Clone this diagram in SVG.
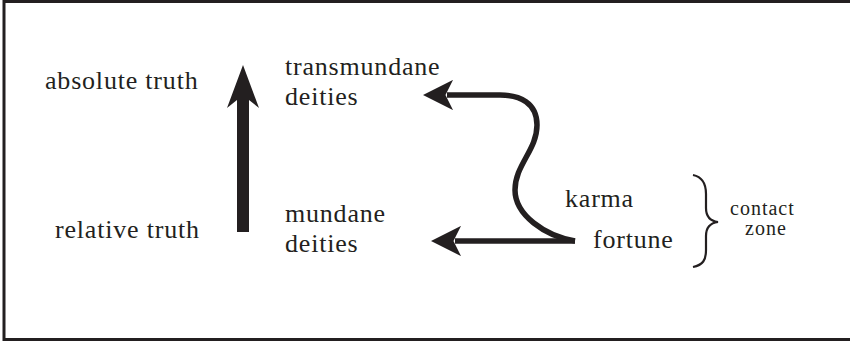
<svg xmlns="http://www.w3.org/2000/svg" width="850" height="342" viewBox="0 0 850 342">
<style>
.t{font-family:"Liberation Serif","DejaVu Serif",serif;font-size:26px;letter-spacing:0.8px;fill:#231f20}
.s{font-family:"Liberation Serif","DejaVu Serif",serif;font-size:20px;letter-spacing:1px;fill:#231f20}
.ln{fill:none;stroke:#231f20;stroke-width:5.5}
</style>
<defs>
<marker id="ah" viewBox="0 0 10 10" refX="2" refY="5" markerWidth="5.5" markerHeight="5.5" orient="auto-start-reverse" markerUnits="strokeWidth">
<path d="M0 0 L10 5 L0 10 L2.5 5 Z" fill="#231f20"/>
</marker>
</defs>
<rect x="4" y="1.5" width="850" height="338" fill="#fff" stroke="#231f20" stroke-width="3"/>
<g id="absolute-truth"><text class="t" x="45" y="89">absolute truth</text></g>
<g id="relative-truth"><text class="t" x="55" y="238">relative truth</text></g>
<g id="transmundane-deities"><text class="t" x="285" y="75">transmundane</text><text class="t" x="285" y="105">deities</text></g>
<g id="mundane-deities"><text class="t" x="285" y="222">mundane</text><text class="t" x="285" y="252">deities</text></g>
<g id="karma"><text class="t" x="565" y="207">karma</text></g>
<g id="fortune"><text class="t" x="593" y="248">fortune</text></g>
<g id="contact-zone">
<path d="M693 175 C703 177 706 184 706 194 L706 208 C706 216 710 221 718 222 C710 223 706 228 706 236 L706 250 C706 260 703 265 693 267" fill="none" stroke="#231f20" stroke-width="2.2"/>
<text class="s" x="730" y="215">contact</text><text class="s" x="745" y="235">zone</text>
</g>
<g id="connectors">
<polygon points="243,65 259,108 249,100 249,232 237,232 237,100 227,108" fill="#231f20"/>
<path class="ln" marker-end="url(#ah)" d="M575 241 C545 236 515 215 515 190 C515 165 537 150 537 125 C537 103 520 95 500 95 L447 95"/>
<path class="ln" marker-end="url(#ah)" d="M575 241 L455 241"/>
</g>
</svg>
